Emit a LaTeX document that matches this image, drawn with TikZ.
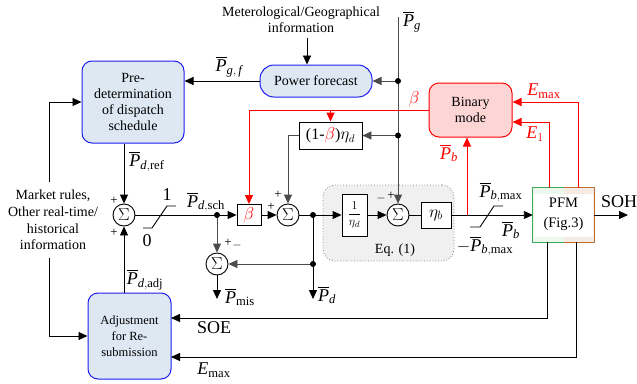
\documentclass[tikz,border=0pt]{standalone}
\usepackage{amsmath}
\usepackage{fontspec}
\setmainfont{Liberation Serif}
\usetikzlibrary{arrows.meta,calc}
\newcommand{\PP}{\overline{\textit{P}}}
\definecolor{boxblue}{RGB}{221,232,243}
\definecolor{lineblue}{RGB}{30,30,240}
\definecolor{pinkfill}{RGB}{253,213,213}
\definecolor{pfmgreen}{RGB}{60,170,90}
\definecolor{pfmorange}{RGB}{190,110,50}
\definecolor{dgray}{RGB}{75,75,75}
\begin{document}
\begin{tikzpicture}[x=1pt,y=-1pt,
  font=\fontsize{14}{16}\selectfont,
  arr/.style={-{Triangle[length=9pt,width=8pt]}, line width=0.9pt},
  ln/.style={line width=0.9pt},
  redarr/.style={arr, red},
  bluebox/.style={draw=lineblue, fill=boxblue, rounded corners=10pt, line width=1pt, align=center, inner sep=2pt},
  blk/.style={draw, line width=0.9pt, fill=white, inner sep=1pt},
  sumnode/.style={circle, draw, line width=0.9pt, fill=white, minimum size=22pt, inner sep=0pt, font=\fontsize{16}{16}\selectfont},
  lab/.style={font=\fontsize{18}{18}\selectfont, inner sep=0pt},
  sgn/.style={font=\fontsize{13}{13}\selectfont, inner sep=0pt},
  dot/.style={circle, fill, inner sep=0pt, minimum size=6pt},
]
\useasboundingbox (0,0) rectangle (637,383);

% background group box
\node[draw=gray, dotted, line width=0.8pt, fill=gray!12, rounded corners=12pt,
      minimum width=131pt, minimum height=76pt] (eqbox) at (388.5,223) {};
\node[font=\fontsize{14}{14}\selectfont] (eqlab) at (395,250) {Eq. (1)};

% blocks
\node[bluebox, minimum width=102pt, minimum height=82pt] (pre) at (133,102)
  {Pre-\\determination\\of dispatch\\schedule};
\node[bluebox, minimum width=112pt, minimum height=32pt, rounded corners=14pt] (pf) at (316,81) {Power forecast};
\node[align=center] (info) at (301,20) {Meterological/Geographical\\information};
\node[draw=red, fill=pinkfill, rounded corners=10pt, line width=1pt, align=center,
      minimum width=83pt, minimum height=54pt] (bin) at (470.5,110) {Binary\\mode};
\node[bluebox, minimum width=83pt, minimum height=86pt, font=\fontsize{12.5}{16}\selectfont] (adj) at (129.5,336)
  {Adjustment\\for Re-\\submission};
\node[align=center] (mkt) at (53,220) {Market rules,\\[0.7pt]Other real-time/\\[0.7pt]historical\\[0.7pt]information};

\node[blk, minimum width=63pt, minimum height=27pt, font=\fontsize{16}{16}\selectfont] (om) at (330.5,135.5)
  {(1-{\color{red}$\beta$})$\eta_d$};
\node[blk, minimum width=24pt, minimum height=21pt, font=\fontsize{17}{17}\selectfont] (beta) at (249,215) {\color{red}$\beta$};
\node[blk, minimum width=25pt, minimum height=42pt, font=\fontsize{13}{13}\selectfont] (inv) at (354.5,215) {$\dfrac{1}{\eta_d}$};
\node[blk, minimum width=30pt, minimum height=26pt, font=\fontsize{17}{17}\selectfont] (etab) at (436,215) {$\eta_b$};

\node[sumnode] (s1) at (124,215) {$\Sigma$};
\node[sumnode] (s2) at (288,215) {$\Sigma$};
\node[sumnode] (s3) at (398,215) {$\Sigma$};
\node[sumnode] (s4) at (217,264) {$\Sigma$};

% PFM
\node[minimum width=61pt, minimum height=54pt, inner sep=0pt] (pfm) at (563.5,215) {};
\fill[pfmgreen!10] (pfm.north west) rectangle (pfm.south);
\fill[pfmorange!14] (pfm.north) rectangle (pfm.south east);
\fill[white] ($(pfm.north west)+(1,6)$) rectangle ($(pfm.south east)+(-1,-5)$);
\draw[pfmgreen, line width=1.2pt] (pfm.north) -- (pfm.north west) -- (pfm.south west) -- (pfm.south);
\draw[pfmorange, line width=1.2pt] (pfm.north) -- (pfm.north east) -- (pfm.south east) -- (pfm.south);
\node[align=center, font=\fontsize{14.5}{20}\selectfont] (pfmtxt) at (563.5,214) {PFM\\(Fig.3)};

% coordinates
\coordinate (infoarr) at (307,38);
\coordinate (pgtop) at (398,17);
\coordinate (d1) at (398,81);
\coordinate (d2) at (398,135.5);
\coordinate (dA) at (217,215);
\coordinate (dB) at (313,215);
\coordinate (dC) at (313,264);
\coordinate (pdend) at (313,299);
\coordinate (pmisend) at (217,299);
\coordinate (pbtap) at (467,215);
\coordinate (e1b) at (549,188);
\coordinate (e1t) at (549,122);
\coordinate (emb) at (578,188);
\coordinate (emt) at (578,102);
\coordinate (soeb) at (547,242);
\coordinate (soel) at (171,318);
\coordinate (emaxb) at (576,242);
\coordinate (emaxl) at (171,357);
\coordinate (soh) at (628,215);
\coordinate (mkt1) at (49,182);
\coordinate (mkt2) at (49,258);
\coordinate (redc) at (249,110);

% connectors - top
\draw[arr] (infoarr) -- (infoarr |- pf.north);
\draw[arr] (pf.west) -- (pre.east |- pf.west);
\draw[arr, dgray] (pgtop) -- (s3.north);
\draw[arr, dgray] (d1) -- (pf.east);
\draw[arr, dgray] (d2) -- (om.east);
\node[dot] at (d1) {};
\node[dot] at (d2) {};

% red
\draw[redarr] (bin.west) -- (redc) -- (beta.north);
\draw[redarr] (om.north |- bin.west) -- (om.north);
\draw[redarr] (pbtap) -- (pbtap |- bin.south);
\draw[redarr] (e1b) -- (e1t) -- (bin.east |- e1t);
\draw[redarr] (emb) -- (emt) -- (bin.east |- emt);

% main path
\draw[arr] (pre.south -| s1) -- (s1.north);
\draw[arr] (adj.north -| s1) -- (s1.south);
\draw[arr] (s1.east) -- (beta.west);
\draw[arr, dgray] (dA) -- (s4.north);
\node[dot] at (dA) {};
\draw[arr] (beta.east) -- (s2.west);
\draw[arr, dgray] (om.west) -| (s2.north);
\draw[ln] (s2.east) -- (dB);
\draw[arr] (dB) -- (inv.west);
\draw[ln] (dB) -- (dC);
\draw[arr] (dC) -- (pdend);
\draw[arr, dgray] (dC) -- (s4.east);
\draw[arr] (s4.south) -- (pmisend);
\node[dot] at (dB) {};
\node[dot] at (dC) {};
\draw[arr] (inv.east) -- (s3.west);
\draw[ln] (s3.east) -- (etab.west);
\draw[arr] (etab.east) -- (pfm.west);
\draw[arr] (pfm.east) -- (soh);

% saturation symbols
\draw[ln] (143,228) -- (152,228) -- (167,206) -- (176,206);
\draw[ln] (470,227) -- (480,227) -- (494,206) -- (503,206);

% bottom feedback
\draw[arr] (soeb) |- (soel);
\draw[arr] (emaxb) |- (emaxl);

% market rules
\draw[arr] (mkt1) |- (pre.west);
\draw[arr] (mkt2) |- (adj.west);

% labels
\node[lab] at (229,67) {$\PP_{\textit{g},\,\textit{f}}$};
\node[lab] at (412,22) {$\PP_{\textit{g}}$};
\node[lab] at (147,162) {$\PP_{\textit{d},\textrm{ref}}$};
\node[lab] at (206,202) {$\PP_{\textit{d},\textrm{sch}}$};
\node[lab] at (145,280) {$\PP_{\textit{d},\textrm{adj}}$};
\node[lab] at (240,297) {$\PP_{\textrm{mis}}$};
\node[lab] at (327,295) {$\PP_{\textit{d}}$};
\node[lab] at (501,192) {$\PP_{\textit{b},\textrm{max}}$};
\node[lab] at (485,246) {$-\PP_{\textit{b},\textrm{max}}$};
\node[lab] at (511,230) {$\PP_{\textit{b}}$};
\node[lab, red] at (449,153) {$\PP_{\textit{b}}$};
\node[lab, red] at (414,99) {$\beta$};
\node[lab, red] at (544,91) {\textit{E}$_{\textrm{max}}$};
\node[lab, red] at (535,134) {\textit{E}$_{1}$};
\node[lab] at (214,370) {\textit{E}$_{\textrm{max}}$};
\node[lab] at (214,328) {SOE};
\node[lab] at (619,202) {SOH};
\node[lab] at (167,195) {1};
\node[lab] at (147,241) {0};

% signs
\node[sgn] at (114,201) {+};
\node[sgn] at (114,233) {+};
\node[sgn] at (278,195) {+};
\node[sgn] at (271,207) {+};
\node[sgn] at (228,243) {+};
\node[sgn] at (237,245) {$-$};
\node[sgn] at (381,198) {$-$};
\node[sgn] at (391,196) {+};
\end{tikzpicture}
\end{document}
